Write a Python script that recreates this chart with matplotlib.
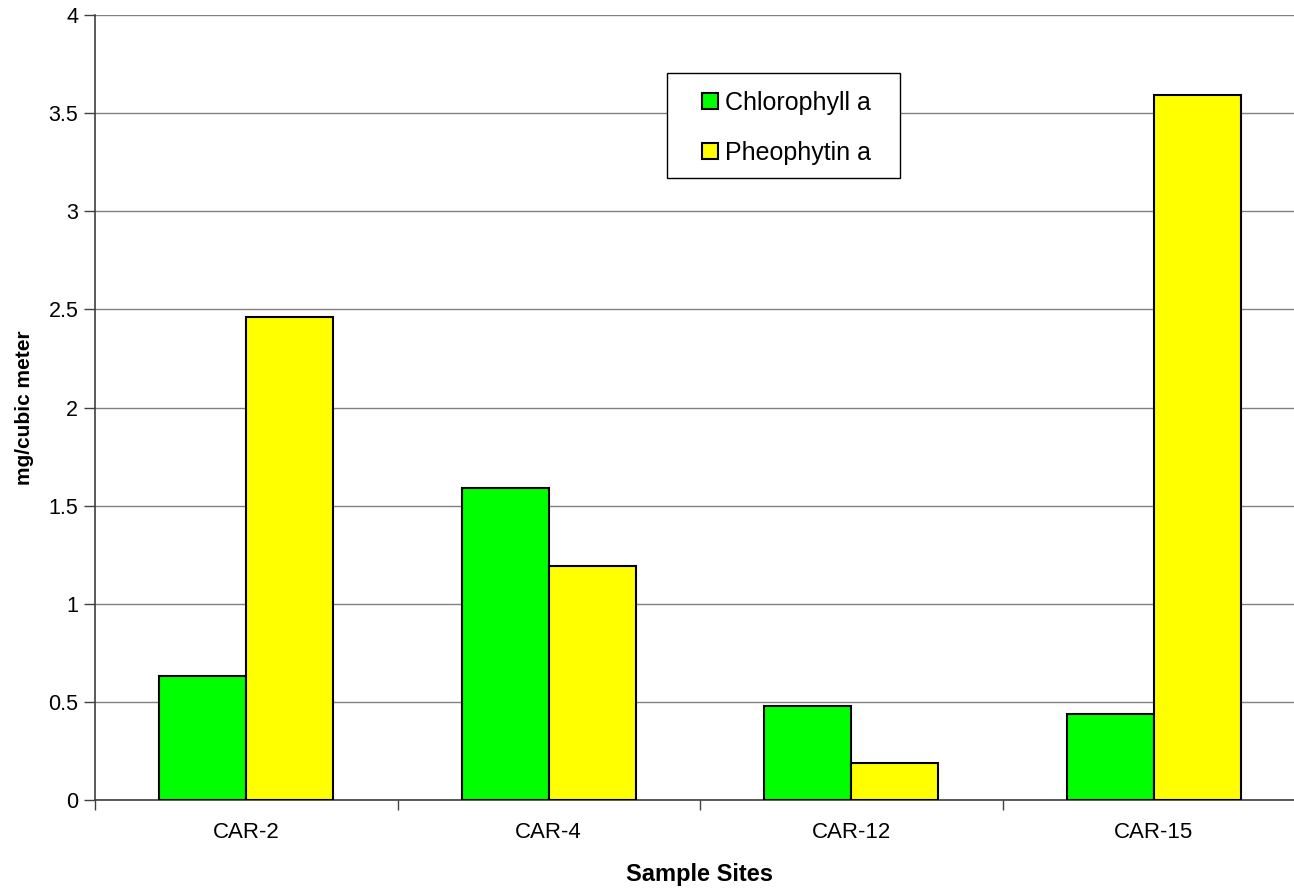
import matplotlib.pyplot as plt
import matplotlib.patches as mpatches
import numpy as np

plt.rcParams['font.family'] = ['Liberation Sans', 'DejaVu Sans']

# data
sites = ['CAR-2', 'CAR-4', 'CAR-12', 'CAR-15']
chlorophyll = [0.63, 1.59, 0.48, 0.44]
pheophytin = [2.46, 1.19, 0.19, 3.59]

W, H = 1294, 893
fig = plt.figure(figsize=(W / 100, H / 100), dpi=100)
ax = fig.add_axes([95 / W, 93 / H, 1210 / W, 785 / H])

x = np.arange(len(sites)) + 0.5
w = 0.2876
ax.bar(x - w / 2, chlorophyll, w, color='#00ff00', edgecolor='black', linewidth=1.5,
       label='Chlorophyll a', zorder=3)
ax.bar(x + w / 2, pheophytin, w, color='#ffff00', edgecolor='black', linewidth=1.5,
       label='Pheophytin a', zorder=3)

ax.set_xlim(0, len(sites))
ax.set_ylim(0, 4)
ax.set_yticks(np.arange(0, 4.01, 0.5))
ax.set_yticklabels(['0', '0.5', '1', '1.5', '2', '2.5', '3', '3.5', '4'])
ax.yaxis.grid(True, color='#808080', linewidth=1, zorder=0)

ax.set_xticks(np.arange(0, len(sites) + 1))
ax.set_xticklabels([])
ax.set_xticks(x, minor=True)
ax.set_xticklabels(sites, minor=True)
ax.tick_params(axis='x', which='minor', length=0, pad=16, labelsize=16)
ax.tick_params(axis='x', which='major', length=7, width=1, color='#404040', direction='out')
ax.tick_params(axis='y', length=8, width=1, color='#404040', labelsize=15.5, pad=4)

for s in ['top', 'right']:
    ax.spines[s].set_visible(False)
for s in ['left', 'bottom']:
    ax.spines[s].set_color('#404040')
    ax.spines[s].set_linewidth(1.2)

fig.text(700 / W, 1 - 874 / H, 'Sample Sites', fontsize=17, fontweight='bold',
         ha='center', va='center')
fig.text(25 / W, 1 - 408 / H, 'mg/cubic meter', fontsize=15, fontweight='bold',
         ha='center', va='center', rotation=90)

# legend box drawn by hand, entries placed inside
fig.patches.append(mpatches.Rectangle((667 / W, 1 - 178 / H), 233 / W, 105 / H,
                                      transform=fig.transFigure, facecolor='white',
                                      edgecolor='black', linewidth=1, zorder=5))
leg = fig.legend(loc='center left', bbox_to_anchor=(702 / W, 1 - 128 / H),
                 fontsize=18, frameon=False,
                 handlelength=0.62, handleheight=0.62, handletextpad=0.3,
                 labelspacing=1.05, borderpad=0, borderaxespad=0)
leg.set_zorder(6)

fig.savefig('out.png', dpi=100)
